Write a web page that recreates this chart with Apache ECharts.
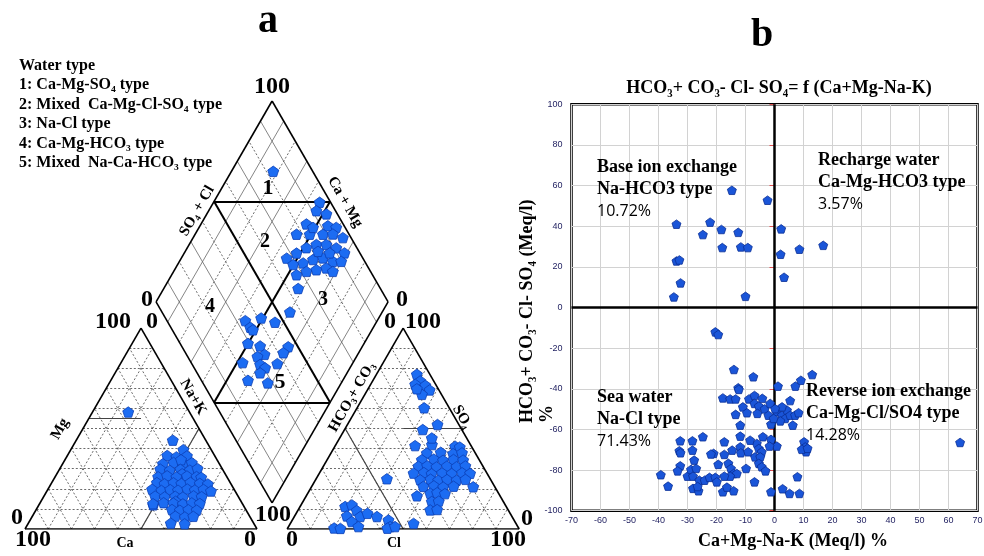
<!DOCTYPE html>
<html>
<head>
<meta charset="utf-8">
<script src="https://cdn.jsdelivr.net/npm/echarts@6/dist/echarts.min.js"></script>
<style>html,body{margin:0;padding:0;background:#fff}#c{width:984px;height:556px}</style>
</head>
<body>
<div id="c"></div>
<script>
// ---------- DATA ----------
// Piper cation triangle: Na+K % and Mg %
const catNaK = [48.5,41.6,15.4,49.3,
 43.0,47.3,51.6,
 43.2,47.5,51.8,55.4,50.0,
 43.4,47.8,52.1,56.4,59.3,54.0,
 44.4,48.0,52.3,56.6,60.9,63.1,
 45.3,48.9,52.5,56.1,59.7,64.0,67.6,
 44.9,49.2,52.8,56.3,60.0,63.5,67.1,70.7,
 47.9,52.2,56.6,60.1,64.4,68.1,58.0,
 48.9,53.2,57.5,61.8,65.4,69.0,
 58.5,62.1,65.6,69.3,
 61.6,65.9,69.4,
 61.4,67.5];
const catMg = [39.5,44.2,58.2,12.0,
 36.6,35.9,36.4,
 32.5,33.1,32.6,33.0,34.5,
 29.8,29.2,29.7,29.3,30.1,27.5,
 26.0,26.5,25.9,26.4,26.1,25.7,
 23.1,22.5,23.0,22.6,23.2,22.7,22.4,
 19.8,19.2,19.6,19.3,19.9,19.4,19.7,18.9,
 16.4,16.0,16.3,15.9,16.5,16.1,13.8,
 12.6,13.1,12.9,12.5,13.0,12.7,
 9.7,9.3,9.6,9.4,
 6.4,6.0,6.3,
 2.9,2.6];
// Piper anion triangle: Cl % and SO4 %
const anCl = [17.4,20.5,19.2,23.8,26.8,24.6,21.0,28.9,33.7,38.8,34.4,41.4,39.7,
 51.8,54.0,
 41.3,47.1,52.8,56.4,
 40.8,45.8,50.1,54.4,58.7,
 41.0,44.6,48.9,53.2,57.5,61.1,
 40.6,44.9,48.5,52.8,57.1,61.4,65.0,
 45.1,49.4,53.0,56.6,60.9,64.5,
 48.1,52.5,56.8,61.1,69.7,
 52.8,55.6,59.2,47.7,55.5,58.4,56.9,59.8,30.5,
 19.4,21.9,25.4,22.5,28.4,30.7,35.6,26.0,30.1,20.0,22.8,41.4,43.8,43.0,45.9,53.1];
const anSO4 = [77.0,73.7,72.0,71.5,69.2,67.0,69.8,60.3,49.5,52.0,41.5,42.0,45.3,
 41.2,40.8,
 37.8,38.2,37.5,37.9,
 34.5,34.8,34.2,34.6,34.3,
 31.2,31.5,30.9,31.3,31.0,31.4,
 27.8,28.1,27.5,27.9,27.6,28.0,27.7,
 24.5,24.8,24.2,24.6,24.3,24.7,
 21.2,21.5,20.9,21.3,21.0,
 17.8,18.1,17.6,16.5,13.7,13.9,9.5,9.7,25.0,
 11.2,12.0,9.2,6.5,6.2,7.8,6.2,3.7,1.2,0.5,0.3,4.5,1.2,0.4,1.2,2.8];
// Piper diamond: Ca+Mg % and SO4+Cl %
const dmCaMg = [82,54.3,53.6,48.5,54.6,44.9,40.9,56.3,50.6,44.9,40.7,35.5,
 54.6,51.6,48.7,45.2,40.9,35.8,31.0,50.2,46.3,42.9,39.0,33.9,30.3,
 46.2,42.8,38.9,35.1,31.4,42.1,50.9,42.8,37.4,39.8,
 56.9,50.7,53.1,51.3,43.7,50.1,44.2,40.2,42.7,31.9,32.5,47.6,39.6,36.6,32.4,37.5,40.9,31.7];
const dmSO4Cl = [83,95.3,91.8,95.3,84.2,93.0,96.2,77.4,83.1,88.8,93.1,96.5,
 67.2,72.7,78.3,83.4,87.7,91.1,93.4,68.4,73.1,78.2,82.9,86.3,89.9,
 67.3,72.4,77.1,81.8,83.8,64.6,86.2,82.4,87.0,55.2,
 33.8,41.3,34.3,34.8,46.2,29.3,33.9,33.7,30.1,45.8,42.2,22.2,29.3,30.6,36.9,27.2,20.1,28.0];
// Ion exchange plot: Ca+Mg-Na-K (x) and HCO3+CO3-Cl-SO4 (y), %
const ionX = [-14.7,-2.4,-33.8,-22.2,-24.7,-18.3,-12.5,-18.0,-11.6,-9.2,-33.8,-32.8,-32.4,-34.7,-10.0,
 2.3,2.1,8.6,16.8,3.3,
 -20.4,-19.4,-14.0,-7.3,1.2,13.0,9.1,7.2,-12.5,-12.3,-17.8,-15.3,-13.4,-8.8,-6.9,-4.2,5.4,-10.9,-6.9,-5.4,-3.4,-1.5,-5.9,-9.5,-13.4,-2.1,-1.2,-11.8,
 0.8,2.6,4.3,3.7,5.4,2.0,-0.3,7.1,8.3,6.3,2.6,0.2,
 10.2,10.6,10.9,9.4,11.4,0.8,64.0,7.9,8.6,5.2,2.8,-1.2,
 -1.2,-1.7,-4.0,-6.1,-5.4,-4.4,-6.7,-4.9,-8.4,-5.4,-4.4,-3.1,-6.9,-9.8,-11.8,-11.6,-11.8,-17.3,-17.3,-21.0,-21.9,-24.7,-28.3,-32.5,-32.8,-32.4,-28.3,-27.7,-32.5,-33.4,-39.2,-36.7,-30.0,-28.8,-27.0,-28.1,-25.9,-24.1,-22.4,-20.4,-19.9,-28.1,-26.2,-26.5,-17.8,-14.1,-16.4,-19.4,-15.9,-15.0,-14.1,-13.0,-15.3,-17.3,-9.1,-14.6];
const ionY = [57.7,52.8,41.0,42.0,35.9,38.4,37.0,29.5,29.8,29.5,22.9,23.4,12.1,5.2,5.5,
 38.7,26.2,28.7,30.6,14.9,
 -12.0,-13.3,-30.5,-34.1,-38.7,-33.0,-35.8,-38.7,-39.5,-40.3,-44.5,-45.0,-45.0,-45.0,-43.3,-44.7,-45.8,-48.9,-47.2,-48.5,-49.9,-47.2,-52.1,-51.8,-52.6,-53.0,-57.4,-57.9,
 -51.3,-53.0,-50.5,-54.6,-53.0,-55.8,-54.6,-53.0,-51.8,-57.9,-48.9,-49.8,
 -66.1,-68.6,-71.0,-69.8,-69.3,-68.2,-66.4,-83.3,-91.5,-91.5,-89.2,-90.7,
 -64.9,-68.2,-63.6,-66.9,-69.4,-71.0,-73.5,-73.5,-65.3,-76.7,-78.4,-80.4,-85.8,-79.2,-68.6,-71.5,-63.3,-66.1,-72.3,-71.8,-72.1,-63.6,-65.6,-65.6,-70.5,-71.5,-70.2,-75.1,-77.9,-80.4,-82.3,-87.9,-83.0,-79.7,-79.2,-83.0,-85.0,-85.0,-83.6,-83.6,-85.8,-89.0,-90.2,-88.1,-90.7,-90.2,-88.4,-77.2,-76.7,-79.2,-81.7,-81.7,-83.0,-83.0,-71.0,-70.2];
const legendLines = ['Water type','1: Ca-Mg-SO\u2084 type','2: Mixed  Ca-Mg-Cl-SO\u2084 type','3: Na-Cl type','4: Ca-Mg-HCO\u2083 type','5: Mixed  Na-Ca-HCO\u2083 type'];
const quadText = [
 ['Base ion exchange','Na-HCO3 type','10.72%'],
 ['Recharge water','Ca-Mg-HCO3 type','3.57%'],
 ['Sea water','Na-Cl type','71.43%'],
 ['Reverse ion exchange','Ca-Mg-Cl/SO4 type','14.28%']];

// ---------- GEOMETRY (Piper) ----------
const H = Math.sqrt(3)/2, OFF = 113, BX = 106.5, BY = 6.5*Math.sqrt(3);
const cat = (na, mg) => [na + mg*0.5, mg*H];
const ani = (cl, so4) => [OFF + cl + so4*0.5, so4*H];
const dia = (cm, sc) => [BX + (sc-cm)*0.5, BY + (cm+sc)*H];

const outline = [], dashed = [], thinSolid = [], cls = [], clsTri = [];
[cat, ani].forEach(f => {
  outline.push([f(0,0),f(100,0)],[f(100,0),f(0,100)],[f(0,100),f(0,0)]);
  for (let k = 10; k < 100; k += 10) {
    dashed.push([f(0,k),f(100-k,k)],[f(k,0),f(k,100-k)],[f(100-k,0),f(0,100-k)]);
  }
});
outline.push([dia(0,0),dia(100,0)],[dia(100,0),dia(100,100)],[dia(100,100),dia(0,100)],[dia(0,100),dia(0,0)]);
for (let k = 10; k < 100; k += 10) {
  if (k === 50) continue;
  const tgt = (k/10) % 2 === 1 ? thinSolid : dashed;
  tgt.push([dia(k,0),dia(k,100)],[dia(0,k),dia(100,k)]);
}
cls.push([dia(50,0),dia(50,100)],[dia(0,50),dia(100,50)],[dia(100,50),dia(50,100)],[dia(50,0),dia(0,50)]);
clsTri.push([cat(0,55),cat(22.5,55)],[cat(50,0),cat(50,50)],[ani(25,50),ani(50,50)],[ani(0,50),ani(50,0)]);

const linesSeries = (segs, style, z) => ({
  type:'lines', coordinateSystem:'cartesian2d', xAxisIndex:0, yAxisIndex:0, silent:true, z:z,
  polyline:false, lineStyle:Object.assign({opacity:1}, style),
  data: segs.map(s => ({coords:s}))
});

const PENT = 'path://M50,0 L97.55,34.55 L79.39,90.45 L20.61,90.45 L2.45,34.55 Z';
const ptsA = [];
catNaK.forEach((v,i) => ptsA.push(cat(v, catMg[i])));
anCl.forEach((v,i) => ptsA.push(ani(v, anSO4[i])));
dmCaMg.forEach((v,i) => ptsA.push(dia(v, dmSO4Cl[i])));
const ptsB = ionX.map((v,i) => [v, ionY[i]]);

// ---------- TEXT ----------
const SERIF = '"Liberation Serif","Times New Roman",serif';
function T(t, x, y, size, o) {
  o = o || {};
  const al = o.align || 'center';
  return {type:'text', x:x, y:y, rotation:o.rot||0, z:100, silent:true,
    style:{text:t, fontSize:size, fontWeight:o.weight||'bold', fontFamily:o.family||SERIF,
      fill:'#000', textAlign:al, align:al, textVerticalAlign:'middle', verticalAlign:'middle'}};
}
const R60 = Math.PI/3;
const g = [];
g.push(T('a', 268, 22, 40), T('b', 762, 36, 40));
legendLines.forEach((s,i) => g.push(T(s, 19, 65.5 + i*19.5, 16, {align:'left'})));
// Piper numbers & axis titles
g.push(T('100',272,87,24));
g.push(T('0',147,300,24), T('100',113,322,24), T('0',152,322,24));
g.push(T('0',402,300,24), T('0',390,322,24), T('100',423,322,24));
g.push(T('0',17,518,24), T('100',33,540,24));
g.push(T('100',273,515,24), T('0',250,540,24), T('0',292,540,24));
g.push(T('0',527,519,24), T('100',508,540,24));
g.push(T('1',268,188,22), T('2',265,242,20), T('3',323,300,20), T('4',210,307,20), T('5',280,382,22));
g.push(T('SO\u2084 + Cl',197,211,15,{rot:R60}), T('Ca + Mg',345,202,15,{rot:-R60}));
g.push(T('Na+K',193,397,15,{rot:-R60}), T('HCO\u2083+ CO\u2083',352,397,15,{rot:R60}));
g.push(T('Mg',60,429,15,{rot:R60}), T('Ca',125,543,14), T('Cl',394,543,14), T('SO\u2084',462,417,15,{rot:-R60}));
// Panel b texts
g.push(T('HCO\u2083+ CO\u2083- Cl- SO\u2084= f (Ca+Mg-Na-K)', 779, 88, 18));
g.push(T('HCO\u2083+ CO\u2083- Cl- SO\u2084 (Meq/l)', 527, 423, 18, {rot:Math.PI/2, align:'left'}));
g.push(T('%', 547, 423, 18, {rot:Math.PI/2, align:'left'}));
g.push(T('Ca+Mg-Na-K (Meq/l) %', 793, 541, 18));
const qPos = [[597,167],[818,160],[597,397],[806,391]];
quadText.forEach((q,i) => {
  g.push(T(q[0], qPos[i][0], qPos[i][1], 18, {align:'left'}));
  g.push(T(q[1], qPos[i][0], qPos[i][1]+22, 18, {align:'left'}));
  g.push(T(q[2], qPos[i][0], qPos[i][1]+44, 16, {align:'left', weight:'normal', family:'"Open Sans","Liberation Sans",sans-serif'}));
});

const option = {
  animation:false,
  backgroundColor:'#fff',
  grid:[
    {left:25, top:101, width:213*2.32, height:428, show:false, outerBoundsMode:'none'},
    {left:571.5, top:104.3, width:406, height:406.4, show:true, borderColor:'#000', borderWidth:2.5, backgroundColor:'transparent', outerBoundsMode:'none'}
  ],
  xAxis:[
    {gridIndex:0, type:'value', min:0, max:213, show:false, splitLine:{show:false}},
    {gridIndex:1, type:'value', min:-70, max:70, interval:10,
      axisLine:{show:false}, axisTick:{show:false},
      axisLabel:{color:'#1d1d5e', fontSize:9, margin:5, fontFamily:'"Liberation Sans",Arial,sans-serif'},
      splitLine:{show:true, lineStyle:{color:'#d2d2d2', width:1}}}
  ],
  yAxis:[
    {gridIndex:0, type:'value', min:0, max:184.46, show:false, splitLine:{show:false}},
    {gridIndex:1, type:'value', min:-100, max:100, interval:20,
      axisLine:{show:false}, axisTick:{show:true, length:5, lineStyle:{color:'#e05050', width:1}},
      axisLabel:{color:'#1d1d5e', fontSize:9, margin:9, fontFamily:'"Liberation Sans",Arial,sans-serif'},
      splitLine:{show:true, lineStyle:{color:'#d2d2d2', width:1}}}
  ],
  series:[
    linesSeries(dashed, {color:'#444', width:0.8, type:[2,2]}, 1),
    linesSeries(thinSolid, {color:'#666', width:0.8, type:'solid'}, 1),
    linesSeries(clsTri, {color:'#444', width:1.2, type:'solid'}, 2),
    linesSeries(outline, {color:'#000', width:1.6, type:'solid'}, 3),
    linesSeries(cls, {color:'#000', width:2, type:'solid'}, 3),
    {type:'scatter', xAxisIndex:0, yAxisIndex:0, data:ptsA, symbol:PENT, symbolKeepAspect:true, symbolSize:11, z:5,
      itemStyle:{color:'#1c6cf2', borderColor:'#0b3fb5', borderWidth:0.8, opacity:1}, silent:true},
    {type:'scatter', xAxisIndex:1, yAxisIndex:1, data:ptsB, symbol:PENT, symbolKeepAspect:true, symbolSize:9, z:5,
      itemStyle:{color:'#1a55d8', borderColor:'#0a2f95', borderWidth:0.8, opacity:1}, silent:true,
      markLine:{silent:true, symbol:['none','none'], label:{show:false}, animation:false,
        lineStyle:{color:'#000', width:2.5, type:'solid'},
        data:[{xAxis:0},{yAxis:0}]}}
  ],
  graphic:g
};
const chart = echarts.init(document.getElementById('c'), null, {renderer:'canvas'});
chart.setOption(option);
</script>
</body>
</html>
